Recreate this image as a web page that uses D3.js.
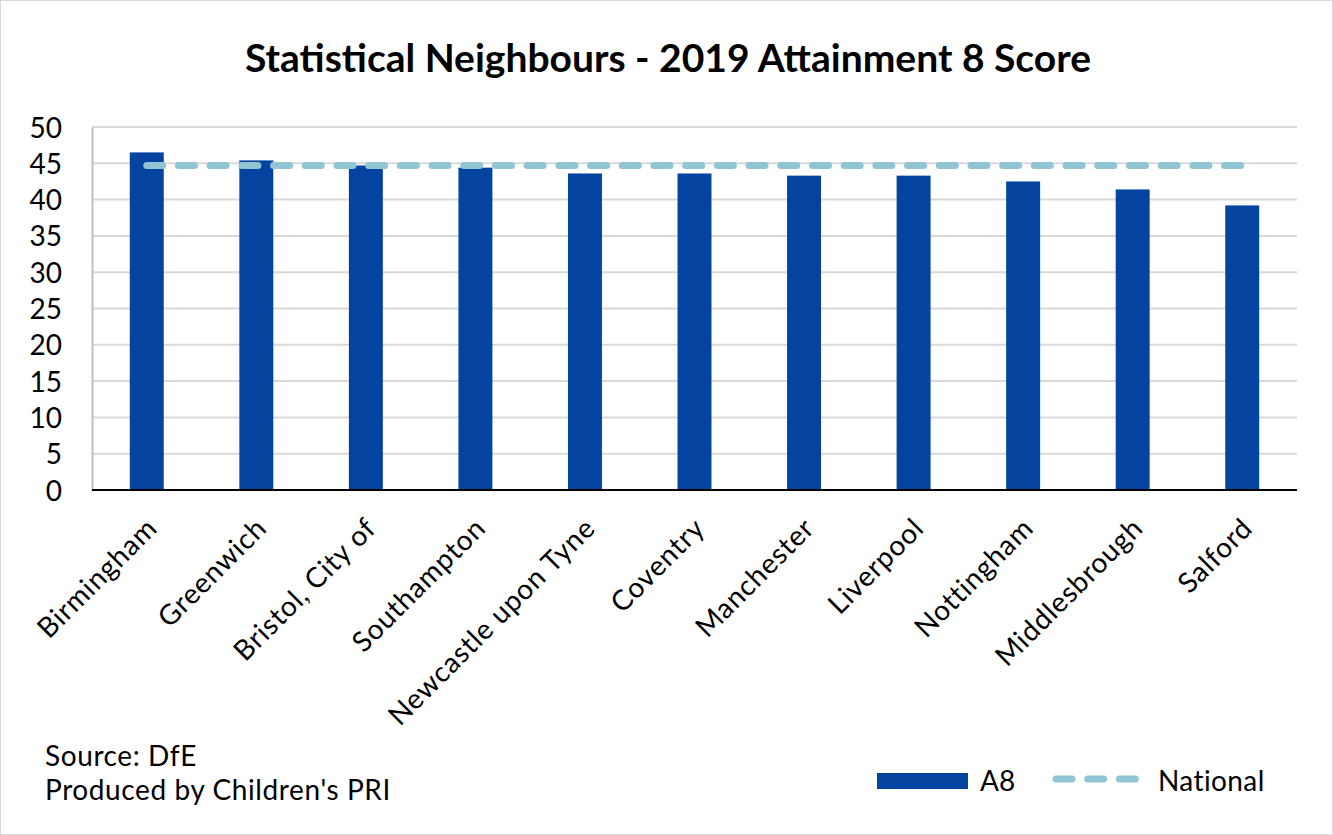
<!DOCTYPE html>
<html>
<head>
<meta charset="utf-8">
<script src="https://cdn.jsdelivr.net/npm/d3@7"></script>
<style>
  html, body { margin: 0; padding: 0; background: #fff; }
  svg { display: block; font-family: Lato, "Open Sans", sans-serif; }
</style>
</head>
<body>
<svg id="chart" width="1333" height="835"></svg>
<script>
// Local authorities and their 2019 Attainment 8 scores
const categories = ["Birmingham", "Greenwich", "Bristol, City of", "Southampton", "Newcastle upon Tyne",
  "Coventry", "Manchester", "Liverpool", "Nottingham", "Middlesbrough", "Salford"];
const a8Values = [46.5, 45.4, 44.7, 44.4, 43.6, 43.6, 43.3, 43.3, 42.5, 41.4, 39.2];
const nationalValue = 44.7;
const yTicks = [0, 5, 10, 15, 20, 25, 30, 35, 40, 45, 50];

const svg = d3.select("#chart");
const W = 1333, H = 835;
const plot = { left: 92, right: 1297, top: 127, bottom: 490 };
const FONT = "Lato, 'Open Sans', sans-serif";

// outer frame
svg.append("rect").attr("x", 0.5).attr("y", 0.5).attr("width", W - 1).attr("height", H - 1)
  .attr("fill", "#fff").attr("stroke", "#d9d9d9");

svg.append("text").attr("x", 668).attr("y", 72).attr("text-anchor", "middle")
  .attr("font-size", 39).attr("font-weight", "bold").attr("fill", "#000")
  .text("Statistical Neighbours - 2019 Attainment 8 Score");

const x = d3.scaleBand().domain(categories).range([plot.left, plot.right]).paddingInner(0.69).paddingOuter(0.345);
const y = d3.scaleLinear().domain([0, 50]).range([plot.bottom, plot.top]);

// gridlines
svg.append("g").selectAll("line").data(yTicks.filter(d => d > 0)).join("line")
  .attr("x1", plot.left).attr("x2", plot.right)
  .attr("y1", d => y(d)).attr("y2", d => y(d))
  .attr("stroke", "#d9d9d9").attr("stroke-width", 2);

// y axis
const yAxis = svg.append("g").attr("transform", `translate(${plot.left},0)`)
  .call(d3.axisLeft(y).tickValues(yTicks).tickSize(0).tickPadding(30));
yAxis.select(".domain").attr("stroke", "#bfbfbf").attr("stroke-width", 2);
yAxis.selectAll("text").attr("font-size", 28).attr("fill", "#000")
  .attr("font-family", FONT).attr("dy", "0.36em");

// bars
svg.append("g").selectAll("rect").data(categories).join("rect")
  .attr("x", d => x(d)).attr("width", x.bandwidth())
  .attr("y", (d, i) => y(a8Values[i]))
  .attr("height", (d, i) => y(0) - y(a8Values[i]))
  .attr("fill", "#0443a0");

// national average line
const line = d3.line().x(d => x(d) + x.bandwidth() / 2).y(() => y(nationalValue));
svg.append("path").datum(categories).attr("d", line)
  .attr("fill", "none").attr("stroke", "#92c5d3").attr("stroke-width", 7)
  .attr("stroke-linecap", "round").attr("stroke-dasharray", "16 15.7");

// x axis
const xAxis = svg.append("g").attr("transform", `translate(0,${plot.bottom})`)
  .call(d3.axisBottom(x).tickSize(0).tickPadding(0));
xAxis.select(".domain").attr("stroke", "#000").attr("stroke-width", 2)
  .attr("d", `M${plot.left},0H${plot.right}`);
xAxis.selectAll("text")
  .attr("font-size", 28).attr("fill", "#000").attr("letter-spacing", 0.8)
  .attr("font-family", FONT)
  .attr("text-anchor", "end").attr("dy", 0)
  .attr("transform", "translate(12,40) rotate(-45)");

// source notes
svg.append("text").attr("x", 45).attr("y", 766).attr("font-size", 28).attr("letter-spacing", 0.6).text("Source: DfE");
svg.append("text").attr("x", 45).attr("y", 800).attr("font-size", 28).attr("letter-spacing", 0.6).text("Produced by Children's PRI");

// legend
const lg = svg.append("g");
lg.append("rect").attr("x", 877).attr("y", 773).attr("width", 91).attr("height", 16).attr("fill", "#0443a0");
lg.append("text").attr("x", 980).attr("y", 791).attr("font-size", 28).text("A8");
lg.append("line").attr("x1", 1056).attr("x2", 1136).attr("y1", 779).attr("y2", 779)
  .attr("stroke", "#92c5d3").attr("stroke-width", 7).attr("stroke-linecap", "round")
  .attr("stroke-dasharray", "16 15.7");
lg.append("text").attr("x", 1158).attr("y", 791).attr("font-size", 28).attr("letter-spacing", 0.4).text("National");
</script>
</body>
</html>
